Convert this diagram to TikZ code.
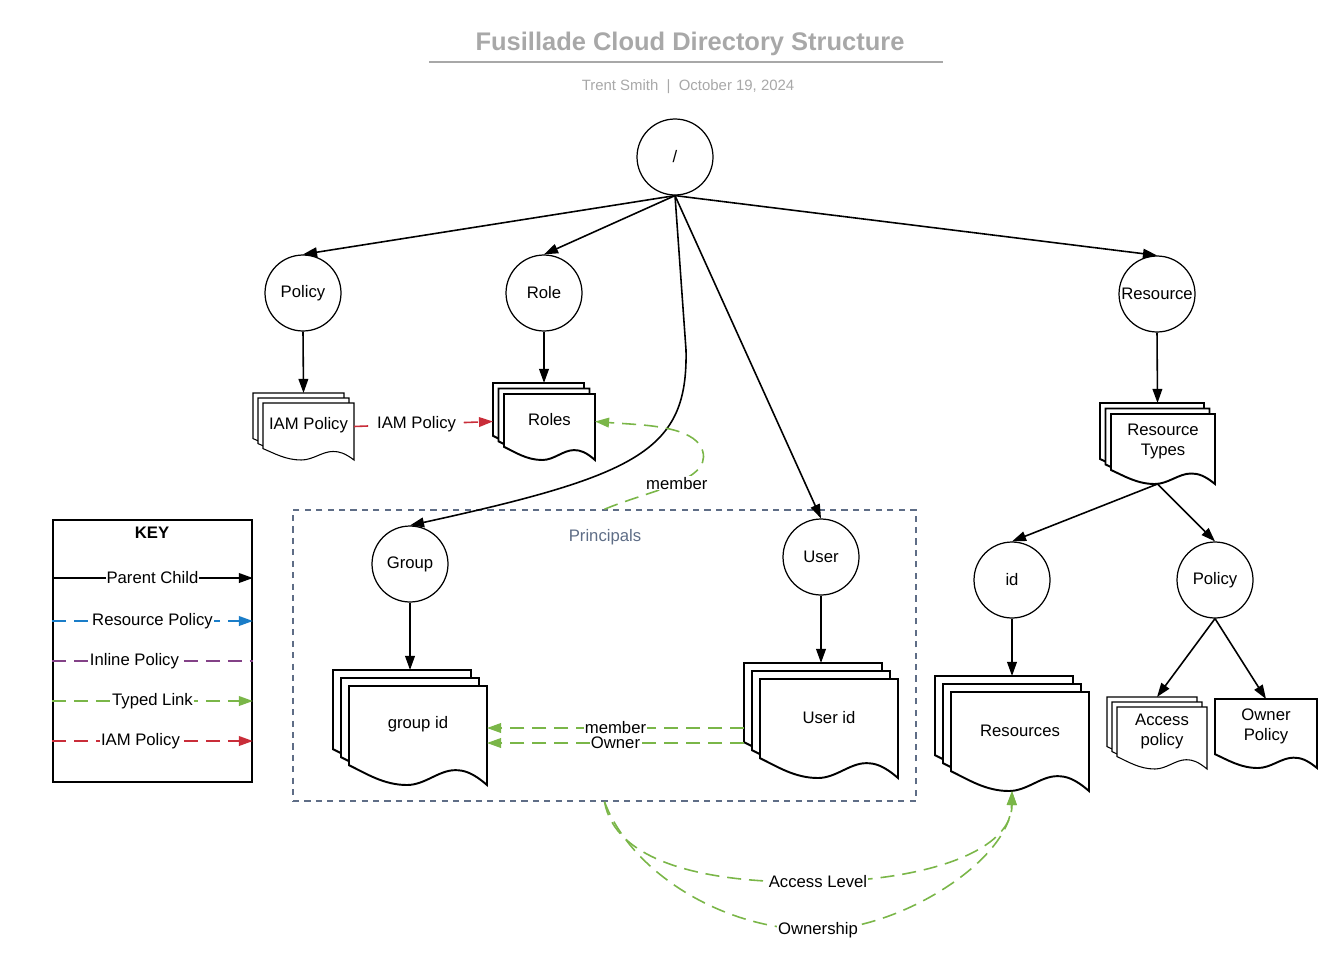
\documentclass[tikz,border=0pt]{standalone}
\usepackage{fontspec}
\setmainfont{Liberation Sans}
\usetikzlibrary{arrows.meta}

\definecolor{linkgreen}{HTML}{7AB648}
\definecolor{iamred}{HTML}{C92D39}
\definecolor{respblue}{HTML}{1A7DC8}
\definecolor{inlpurple}{HTML}{834187}
\definecolor{prinblue}{HTML}{5E6D86}
\definecolor{titlegray}{HTML}{A8A8A8}

% one page of a document, x y w h (y grows downwards)
\newcommand{\docpage}[5]{%
  \filldraw[#1,fill=white] ({#2},{#3}) -- ({#2+#4},{#3}) -- ({#2+#4},{#3+#5})
    .. controls ({#2+0.9*#4},{#3+0.88*#5}) and ({#2+0.84*#4},{#3+0.85*#5}) .. ({#2+0.77*#4},{#3+0.85*#5})
    .. controls ({#2+0.65*#4},{#3+0.85*#5}) and ({#2+0.55*#4},{#3+#5}) .. ({#2+0.42*#4},{#3+#5})
    .. controls ({#2+0.25*#4},{#3+#5}) and ({#2+0.12*#4},{#3+0.88*#5}) .. ({#2},{#3+0.8*#5}) -- cycle;
}
% stack of three pages: [style]{name}{x}{y}{w}{h}{offset}{text}
\newcommand{\docstack}[8][docthick]{%
  \docpage{#1}{#3}{#4}{#5}{#6}
  \docpage{#1}{#3+#7}{#4+#7}{#5}{#6}
  \docpage{#1}{#3+2*#7}{#4+2*#7}{#5}{#6}
  \node[stackbox, minimum width={(#5+2*#7)*0.02cm}, minimum height={(#6+2*#7)*0.02cm}] (#2) at ({#3+#5/2+#7},{#4+#6/2+#7}) {};
  \node[doctext] (#2-t) at ({#3+2*#7+#5/2},{#4+2*#7+0.39*#6}) {#8};
}

\tikzset{
  docthick/.style={line width=1.1pt},
  docthin/.style={line width=0.6pt},
  stackbox/.style={rectangle, inner sep=0pt, outer sep=0pt},
  doctext/.style={align=center},
  dirnode/.style={circle, draw, line width=0.7pt, minimum size=1.52cm, inner sep=0pt},
  parentchild/.style={-{Triangle[length=8pt,width=5.5pt]}, line width=0.9pt},
  typedlink/.style={linkgreen, line width=0.9pt, dash pattern=on 8pt off 4.5pt, -{Triangle[length=8pt,width=5.5pt]}},
  iamlink/.style={iamred, line width=0.9pt, dash pattern=on 8pt off 4.5pt, -{Triangle[length=8pt,width=5.5pt]}},
  reslink/.style={respblue, line width=0.9pt, dash pattern=on 8pt off 4.5pt, -{Triangle[length=8pt,width=5.5pt]}},
  inllink/.style={inlpurple, line width=0.9pt, dash pattern=on 8pt off 4.5pt},
  lbl/.style={fill=white, inner sep=0.5pt, text=black},
}

\begin{document}
\begin{tikzpicture}[x=0.02cm, y=-0.02cm,
  every node/.style={font=\fontsize{9.5}{11.5}\selectfont}]
\useasboundingbox (0,0) rectangle (1344,953);

% title
\node[font=\bfseries\fontsize{14.5}{17}\selectfont, text=titlegray] (title) at (690,44) {Fusillade Cloud Directory Structure};
\draw[titlegray, line width=1.1pt] (429,62) -- (943,62);
\node[font=\fontsize{8.5}{10}\selectfont, text=titlegray] (subtitle) at (688,87) {Trent Smith\ \ |\ \ October 19, 2024};

% principals container
\node[draw=prinblue, line width=0.9pt, dash pattern=on 3.5pt off 3pt, minimum width=12.46cm, minimum height=5.82cm, inner sep=0pt] (principals) at (604.5,655.5) {};
\node[text=prinblue] (principals-t) at (605,537) {Principals};

% documents
\docstack[docthin]{iam}{253}{393}{91}{57}{5}{IAM Policy}
\docstack{roles}{493}{383}{91}{66}{5.5}{Roles}
\docstack{groupid}{333}{670}{138}{99}{8}{group id}
\docstack{userid}{744}{663}{138}{99}{8}{User id}
\docstack{rtypes}{1100}{403}{104}{70}{5.5}{Resource\\Types}
\docstack{resources}{935}{676}{138}{99}{8}{Resources}
\docstack[docthin]{access}{1107}{697}{90}{62}{5}{Access\\policy}
\docpage{docthick}{1215}{699}{102}{69}
\node[stackbox, minimum width=2.04cm, minimum height=1.38cm] (owner) at (1266,733.5) {};
\node[doctext] (owner-t) at (1266,726) {Owner\\Policy};

% directories
\node[dirnode] (root) at (675,157) {/};
\node[dirnode] (policy) at (303,293) {Policy};
\node[dirnode] (role) at (544,293) {Role};
\node[dirnode] (resource) at (1157,294) {Resource};
\node[dirnode] (group) at (410,564) {Group};
\node[dirnode] (user) at (821,557) {User};
\node[dirnode] (id) at (1012,580) {id};
\node[dirnode] (rpolicy) at (1215,580) {Policy};

% parent child
\draw[parentchild] (root.south) -- (policy.north);
\draw[parentchild] (root.south) -- (role.north);
\draw[parentchild] (root.south) -- (resource.north);
\draw[parentchild] (root.south) -- (user.north);
\draw[parentchild] (root.south) -- (686,350) .. controls (688,450) and (640,475) .. (group.north);
\draw[parentchild] (policy.south) -- (iam.north);
\draw[parentchild] (role.south) -- (roles.north);
\draw[parentchild] (group.south) -- (groupid.north);
\draw[parentchild] (user.south) -- (userid.north);
\draw[parentchild] (resource.south) -- (rtypes.north);
\draw[parentchild] (rtypes.south) -- (id.north);
\draw[parentchild] (rtypes.south) -- (rpolicy.north);
\draw[parentchild] (id.south) -- (resources.north);
\draw[parentchild] (rpolicy.south) -- (access.north);
\draw[parentchild] (rpolicy.south) -- (owner.north);

% links
\draw[iamlink] (iam.east) -- node[lbl, inner sep=4pt, pos=0.45] (lbiam) {IAM Policy} (roles.west);
\draw[typedlink] (principals.north) .. controls (650,490) and (720,480) .. node[lbl] (lbmember) {member} (700,445)
  .. controls (685,425) and (640,425) .. (roles.east);
\draw[typedlink] (userid.west |- 0,728) -- node[lbl] (lbgmember) {member} (groupid.east |- 0,728);
\draw[typedlink] (userid.west |- 0,743) -- node[lbl] (lbgowner) {Owner} (groupid.east |- 0,743);
\draw[typedlink] (principals.south) .. controls (615,860) and (700,884) .. (818,882) node[lbl] (lbaccess) {Access Level}
  .. controls (930,880) and (1012,850) .. (resources.south);
\draw[typedlink] (principals.south) .. controls (630,870) and (720,930) .. (818,930) node[lbl] (lbowner) {Ownership}
  .. controls (900,930) and (1010,860) .. (resources.south);

% key
\node[draw, line width=1.1pt, minimum width=3.98cm, minimum height=5.24cm, inner sep=0pt] (key) at (152.5,651) {};
\node[font=\bfseries\fontsize{9.5}{11.5}\selectfont] (key-t) at (152,533) {KEY};
\draw[parentchild] (key.west |- 0,578) -- node[lbl] (k1) {Parent Child} (key.east |- 0,578);
\draw[reslink] (key.west |- 0,621) -- node[lbl] (k2) {Resource Policy} (key.east |- 0,621);
\draw[inllink] (key.west |- 0,661) -- node[lbl, pos=0.41] (k3) {Inline Policy} (key.east |- 0,661);
\draw[typedlink] (key.west |- 0,701) -- node[lbl] (k4) {Typed Link} (key.east |- 0,701);
\draw[iamlink] (key.west |- 0,741) -- node[lbl, pos=0.44] (k5) {IAM Policy} (key.east |- 0,741);
\end{tikzpicture}
\end{document}
